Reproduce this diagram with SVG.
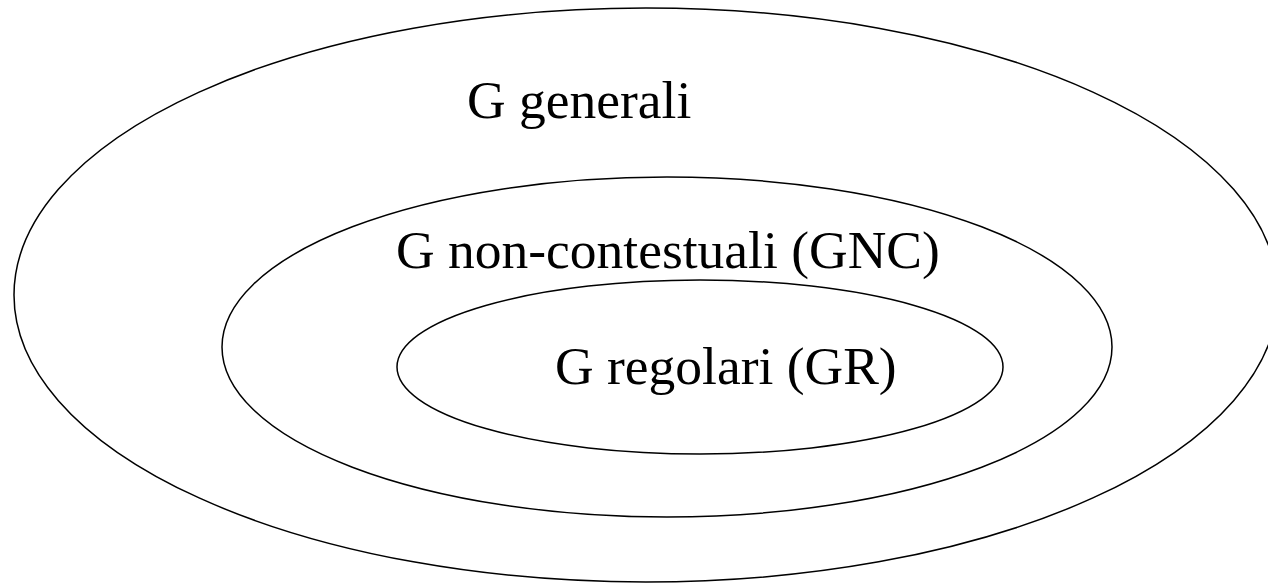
<svg xmlns="http://www.w3.org/2000/svg" width="1268" height="583" viewBox="0 0 1268 583">
<style>
.set{fill:none;stroke:#000;stroke-width:1.5}
.lbl{font-family:"Liberation Serif","Times New Roman",serif;font-size:53.5px;fill:#000}
</style>
<rect width="1268" height="583" fill="#fff"/>
<g id="generali">
<ellipse class="set" cx="646" cy="295" rx="632" ry="287"/>
<text class="lbl" x="467" y="118">G generali</text>
</g>
<g id="gnc">
<ellipse class="set" cx="667" cy="347" rx="445" ry="170"/>
<text class="lbl" x="396" y="268">G non-contestuali (GNC)</text>
</g>
<g id="gr">
<ellipse class="set" cx="700" cy="367" rx="303" ry="87"/>
<text class="lbl" x="555" y="384">G regolari (GR)</text>
</g>
<g id="connectors"></g>
</svg>
